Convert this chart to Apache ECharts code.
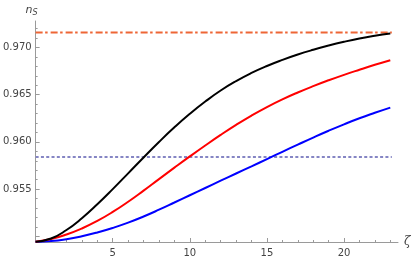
<!DOCTYPE html>
<html>
<head>
<meta charset="utf-8">
<script src="https://cdn.jsdelivr.net/npm/echarts@6/dist/echarts.min.js"></script>
<style>html,body{margin:0;padding:0;background:#fff;}#c{width:414px;height:260px;}</style>
</head>
<body>
<div id="c"></div>
<script>
var zeta = [0,1,2,3,4,5,6,7,8,9,10,11,12,13,14,15,16,17,18,19,20,21,22,23];
var nsBlack = [0.94943,0.94977,0.95067,0.95192,0.95340,0.95500,0.95667,0.95835,0.95999,0.96154,0.96297,0.96427,0.96544,0.96644,0.96730,0.96804,0.96868,0.96925,0.96975,0.97020,0.97060,0.97095,0.97124,0.97148];
var nsRed = [0.94943,0.94971,0.95019,0.95083,0.95163,0.95258,0.95366,0.95484,0.95606,0.95727,0.95846,0.95962,0.96074,0.96180,0.96279,0.96369,0.96450,0.96523,0.96590,0.96652,0.96710,0.96764,0.96816,0.96865];
var nsBlue = [0.94943,0.94950,0.94970,0.95001,0.95041,0.95089,0.95145,0.95210,0.95282,0.95358,0.95435,0.95512,0.95589,0.95665,0.95741,0.95818,0.95895,0.95971,0.96046,0.96118,0.96186,0.96250,0.96308,0.96363];
var nsUpper = 0.97159;
var nsLower = 0.95841;
var xMajorTicks = [5,10,15,20];
var xMinorTicks = [1,2,3,4,6,7,8,9,11,12,13,14,16,17,18,19,21,22,23];
var yMajorTicks = [0.950,0.955,0.960,0.965,0.970];
var yLabelTicks = [0.955,0.960,0.965,0.970];
var yMinorTicks = [0.950,0.951,0.952,0.953,0.954,0.956,0.957,0.958,0.959,0.961,0.962,0.963,0.964,0.966,0.967,0.968,0.969,0.971,0.972];

function pairs(ys){ return zeta.map(function(z,i){ return [z, ys[i]]; }); }
var xEnd = 23.1;

var axisColor = '#9a9a9a';
var labelColor = '#444';
var chart = echarts.init(document.getElementById('c'), null, {renderer:'canvas'});
chart.setOption({
  animation: false,
  grid: {left: 29, top: 21, width: 369, height: 221},
  xAxis: [{
    type: 'value', min: 0, max: 23.5, position: 'bottom',
    name: 'ζ', nameLocation: 'end', nameGap: 6,
    nameTextStyle: {fontStyle: 'italic', fontSize: 12, color: labelColor, fontFamily: 'DejaVu Serif', verticalAlign: 'middle'},
    axisLine: {show: true, onZero: false, lineStyle: {color: axisColor, width: 1}},
    axisTick: {show: true, inside: true, length: 4, customValues: xMajorTicks, lineStyle: {color: axisColor}},
    axisLabel: {show: true, customValues: xMajorTicks, margin: 6, fontSize: 10, color: labelColor, fontFamily: 'DejaVu Sans'},
    splitLine: {show: false}
  }, {
    type: 'value', min: 0, max: 23.5, position: 'bottom', offset: 0,
    axisLine: {show: false, onZero: false},
    axisTick: {show: true, inside: true, length: 2, customValues: xMinorTicks, lineStyle: {color: axisColor}},
    axisLabel: {show: false}, splitLine: {show: false}
  }],
  yAxis: [{
    type: 'value', min: 0.9494, max: 0.9728, position: 'left',
    name: '{n|n}{s|S}', nameLocation: 'end', nameGap: 4,
    nameTextStyle: {padding: [0, 8, 0, 0], rich: {
      n: {fontStyle: 'italic', fontSize: 11, color: labelColor, fontFamily: 'DejaVu Sans'},
      s: {fontStyle: 'italic', fontSize: 8, color: labelColor, fontFamily: 'DejaVu Sans', padding: [5,0,0,0]}
    }},
    axisLine: {show: true, onZero: false, lineStyle: {color: axisColor, width: 1}},
    axisTick: {show: true, inside: true, length: 4, customValues: yMajorTicks, lineStyle: {color: axisColor}},
    axisLabel: {show: true, customValues: yLabelTicks, margin: 4, fontSize: 10, color: labelColor, fontFamily: 'DejaVu Sans',
      formatter: function(v){ return v.toFixed(3); }},
    splitLine: {show: false}
  }, {
    type: 'value', min: 0.9494, max: 0.9728, position: 'left', offset: 0,
    axisLine: {show: false, onZero: false},
    axisTick: {show: true, inside: true, length: 2, customValues: yMinorTicks, lineStyle: {color: axisColor}},
    axisLabel: {show: false}, splitLine: {show: false}
  }],
  series: [
    {type: 'line', data: [[zeta[0], nsLower],[xEnd, nsLower]], symbol: 'none',
     lineStyle: {color: '#8585c4', width: 2, type: [3,2.3]}},
    {type: 'line', data: [[zeta[0], nsUpper],[xEnd, nsUpper]], symbol: 'none',
     lineStyle: {color: '#ee6636', width: 2, type: [7,2.5,2.5,3]}},
    {type: 'line', data: pairs(nsBlue), smooth: true, symbol: 'none', lineStyle: {color: '#0000ff', width: 2}},
    {type: 'line', data: pairs(nsRed), smooth: true, symbol: 'none', lineStyle: {color: '#ff0000', width: 2}},
    {type: 'line', data: pairs(nsBlack), smooth: true, symbol: 'none', lineStyle: {color: '#000000', width: 2}}
  ]
});
</script>
</body>
</html>
